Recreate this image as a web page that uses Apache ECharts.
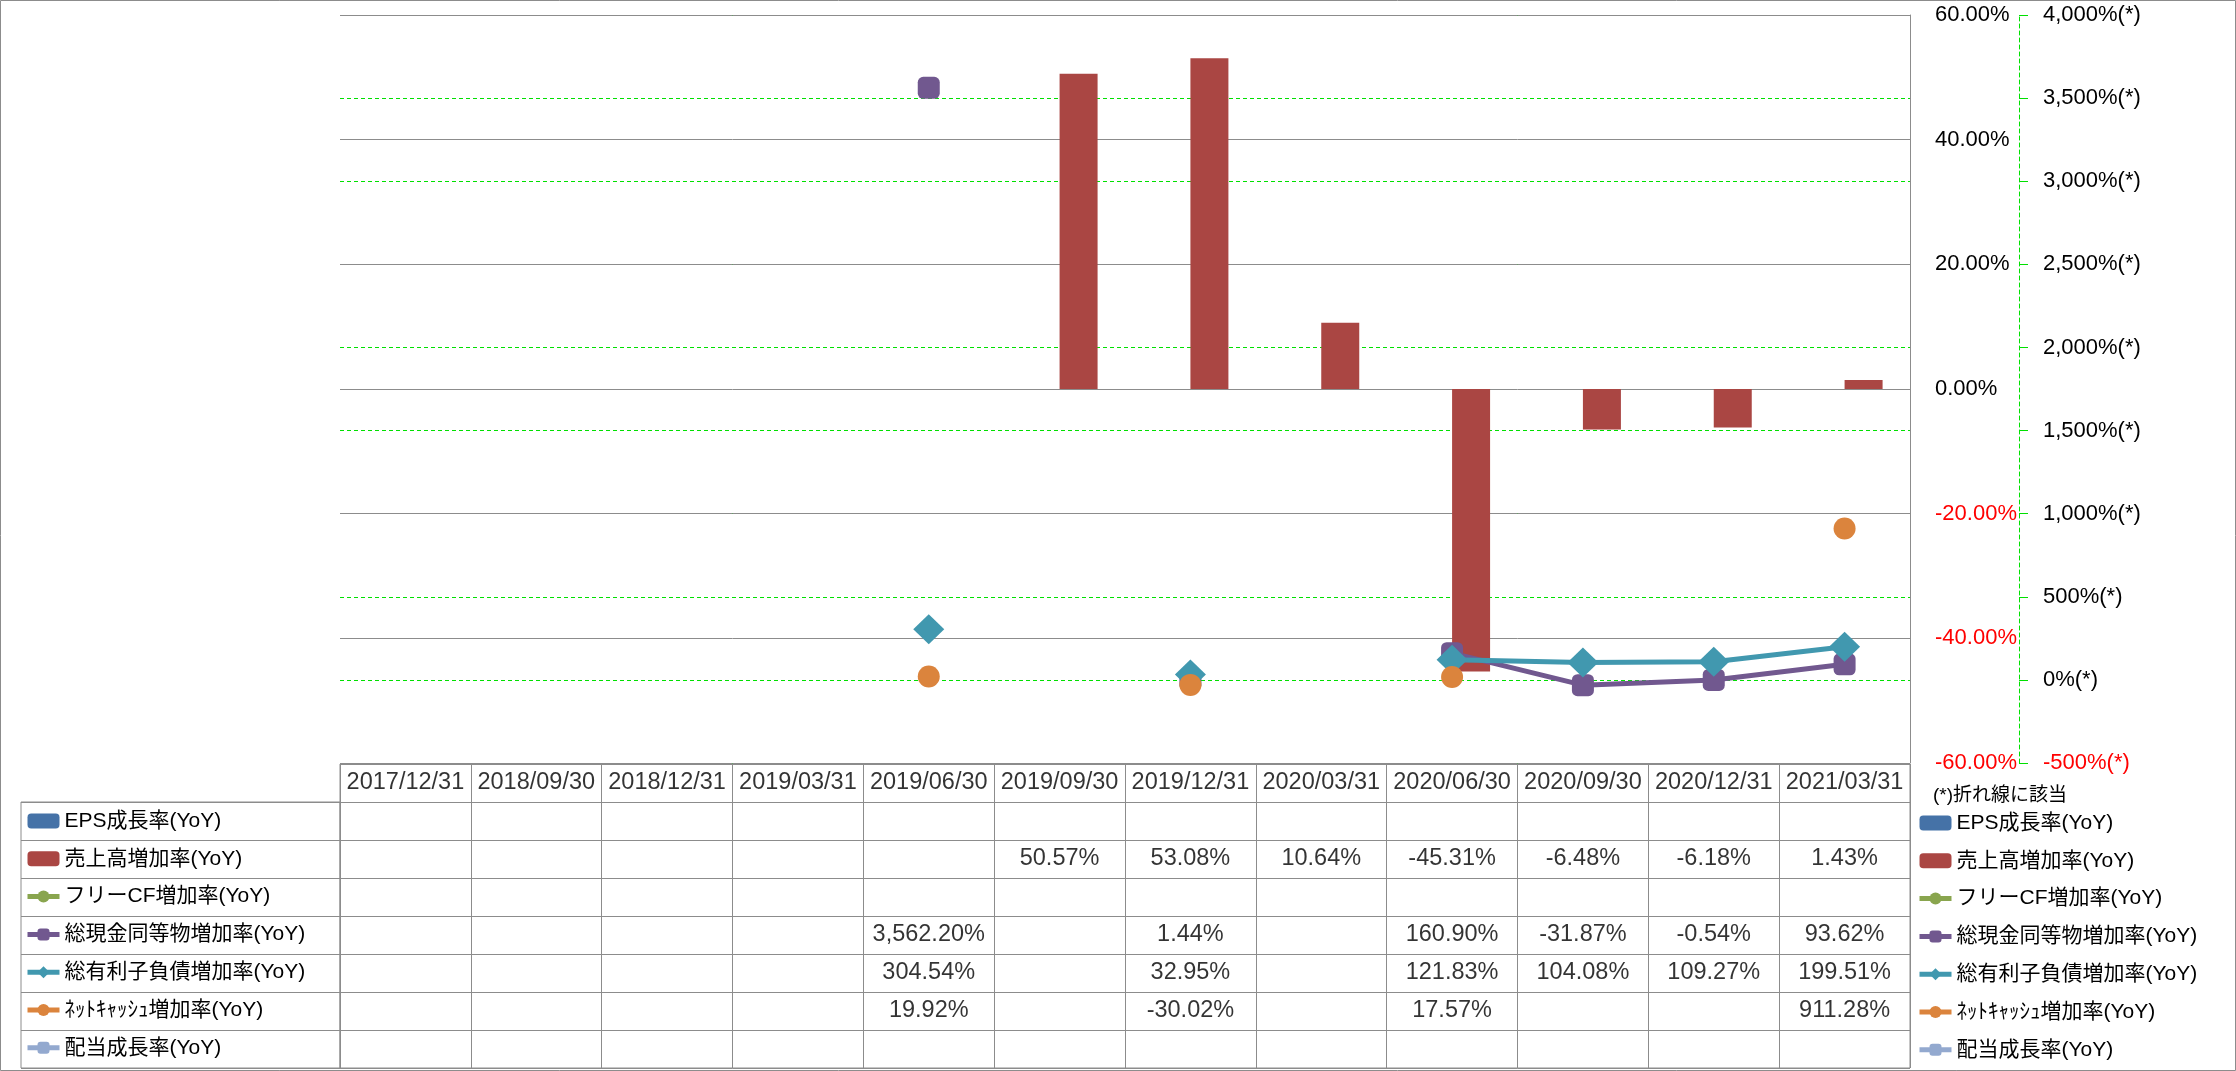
<!DOCTYPE html>
<html>
<head>
<meta charset="utf-8">
<script src="https://cdn.jsdelivr.net/npm/echarts@6/dist/echarts.min.js"></script>
<style>
html,body{margin:0;padding:0;background:#fff;}
#chart{width:2236px;height:1071px;}
</style>
</head>
<body>
<div id="chart"></div>
<script>
// ---- data ----
const categories = ['2017/12/31','2018/09/30','2018/12/31','2019/03/31','2019/06/30','2019/09/30','2019/12/31','2020/03/31','2020/06/30','2020/09/30','2020/12/31','2021/03/31'];
const seriesNames = ['EPS成長率(YoY)','売上高増加率(YoY)','フリーCF増加率(YoY)','総現金同等物増加率(YoY)','総有利子負債増加率(YoY)','ﾈｯﾄｷｬｯｼｭ増加率(YoY)','配当成長率(YoY)'];
const epsGrowth      = [null,null,null,null,null,null,null,null,null,null,null,null];
const salesGrowth    = [null,null,null,null,null,50.57,53.08,10.64,-45.31,-6.48,-6.18,1.43];
const fcfGrowth      = [null,null,null,null,null,null,null,null,null,null,null,null];
const cashGrowth     = [null,null,null,null,3562.20,null,1.44,null,160.90,-31.87,-0.54,93.62];
const debtGrowth     = [null,null,null,null,304.54,null,32.95,null,121.83,104.08,109.27,199.51];
const netCashGrowth  = [null,null,null,null,19.92,null,-30.02,null,17.57,null,null,911.28];
const dividendGrowth = [null,null,null,null,null,null,null,null,null,null,null,null];
const primaryTicks   = {min:-60, max:60, interval:20};
const secondaryTicks = {min:-500, max:4000, interval:500};
const footnote = '(*)折れ線に該当';

// ---- style ----
const colors = ['#4572A7','#AA4643','#89A54E','#71588F','#4198AF','#DB843D','#93A9CF'];
const FONT = "'Liberation Sans','Noto Sans CJK JP',sans-serif";
const GRID_GRAY = '#8c8c8c';
const GREEN = '#00e000';

const fmtPct = v => v.toLocaleString('en-US',{minimumFractionDigits:2,maximumFractionDigits:2}) + '%';
const allRows = [epsGrowth, salesGrowth, fcfGrowth, cashGrowth, debtGrowth, netCashGrowth, dividendGrowth];

// table cells: header row (row 0) + 7 series rows
const tableCells = [];
categories.forEach((c, i) => tableCells.push([i, 0, c]));
allRows.forEach((arr, r) => arr.forEach((v, i) => { if (v !== null) tableCells.push([i, r + 1, fmtPct(v)]); }));

const chart = echarts.init(document.getElementById('chart'), null, {renderer:'canvas'});

const legendCommon = {
  orient:'vertical', padding:0, itemWidth:32, itemHeight:15, itemGap:15.8,
  selectedMode:false, data: seriesNames,
  lineStyle:{width:5},
  textStyle:{fontFamily:FONT, fontSize:21, color:'#000', lineHeight:22}
};

const lineSeries = (name, data, color, symbol, size) => ({
  name, type:'line', xAxisIndex:0, yAxisIndex:1, data,
  symbol, symbolSize:size, connectNulls:false, z:3,
  lineStyle:{color, width:5}, itemStyle:{color}, emphasis:{disabled:true}
});

chart.setOption({
  animation:false,
  backgroundColor:'#fff',
  color: colors,
  textStyle:{fontFamily:FONT},
  title:{text:footnote, left:1928, top:781,
    textStyle:{fontFamily:FONT, fontSize:19, fontWeight:'normal', color:'#000'}},
  legend:[
    Object.assign({left:25, top:810}, legendCommon),
    Object.assign({left:1917, top:812}, legendCommon)
  ],
  grid:[
    {left:340, right:326, top:15, bottom:308, containLabel:false},          // plot
    {left:340, right:326, top:764, height:304, show:true, borderColor:GRID_GRAY, borderWidth:1}, // table
    {left:21, width:319, top:802, height:266, show:true, borderColor:GRID_GRAY, borderWidth:1}   // legend column
  ],
  xAxis:[
    {type:'category', gridIndex:0, data:categories, boundaryGap:true,
      axisLine:{show:false}, axisTick:{show:false}, axisLabel:{show:false}, splitLine:{show:false}},
    {type:'category', gridIndex:1, data:categories, boundaryGap:true,
      axisLine:{show:false}, axisTick:{show:false}, axisLabel:{show:false},
      splitLine:{show:true, lineStyle:{color:GRID_GRAY, width:1}}},
    {type:'value', gridIndex:2, min:0, max:1, show:false}
  ],
  yAxis:[
    {type:'value', gridIndex:0, position:'right', z:2, min:primaryTicks.min, max:primaryTicks.max, interval:primaryTicks.interval,
      axisLine:{show:true, lineStyle:{color:GRID_GRAY, width:1}}, axisTick:{show:false},
      axisLabel:{margin:25, fontFamily:FONT, fontSize:22,
        formatter: v => (v < 0 ? '{r|' : '{b|') + v.toFixed(2) + '%}',
        rich:{r:{color:'#ff0000', fontFamily:FONT, fontSize:22}, b:{color:'#000', fontFamily:FONT, fontSize:22}}},
      splitLine:{show:true, lineStyle:{color:GRID_GRAY, width:1}}},
    {type:'value', gridIndex:0, position:'right', z:1, offset:109, min:secondaryTicks.min, max:secondaryTicks.max, interval:secondaryTicks.interval,
      axisLine:{show:true, lineStyle:{color:GREEN, width:1, type:[4,3]}},
      axisTick:{show:true, length:9, lineStyle:{color:GREEN, width:1}},
      axisLabel:{margin:24, fontFamily:FONT, fontSize:22,
        formatter: v => (v < 0 ? '{r|' : '{b|') + v.toLocaleString('en-US') + '%(*)}',
        rich:{r:{color:'#ff0000', fontFamily:FONT, fontSize:22}, b:{color:'#000', fontFamily:FONT, fontSize:22}}},
      splitLine:{show:true, lineStyle:{color:GREEN, width:1, type:[4,3]}}},
    {type:'category', gridIndex:1, inverse:true, data:['header'].concat(seriesNames), boundaryGap:true,
      axisLine:{show:false}, axisTick:{show:false}, axisLabel:{show:false},
      splitLine:{show:true, lineStyle:{color:GRID_GRAY, width:1}}},
    {type:'category', gridIndex:2, inverse:true, data:seriesNames, boundaryGap:true,
      axisLine:{show:false}, axisTick:{show:false}, axisLabel:{show:false},
      splitLine:{show:true, lineStyle:{color:GRID_GRAY, width:1}}}
  ],
  series:[
    {name:seriesNames[0], type:'bar', xAxisIndex:0, yAxisIndex:0, data:epsGrowth, barWidth:38, barGap:'0%', z:4,
      itemStyle:{color:colors[0]}},
    {name:seriesNames[1], type:'bar', xAxisIndex:0, yAxisIndex:0, data:salesGrowth, barWidth:38, barGap:'0%', z:4,
      itemStyle:{color:colors[1]}},
    Object.assign(lineSeries(seriesNames[2], fcfGrowth, colors[2], 'circle', 22), {z:5}),
    Object.assign(lineSeries(seriesNames[3], cashGrowth, colors[3], 'roundRect', 22), {z:5}),
    Object.assign(lineSeries(seriesNames[4], debtGrowth, colors[4], 'diamond', [31,30]), {z:5}),
    Object.assign(lineSeries(seriesNames[5], netCashGrowth, colors[5], 'circle', 22), {z:5}),
    Object.assign(lineSeries(seriesNames[6], dividendGrowth, colors[6], 'roundRect', 22), {z:5}),
    {name:'table', type:'scatter', xAxisIndex:1, yAxisIndex:2, data:tableCells,
      symbolSize:0, silent:true, z:5,
      label:{show:true, position:'inside', formatter:p => p.value[2],
        fontFamily:FONT, fontSize:23.5, color:'#000'}}
  ],
  graphic:[
    {type:'rect', shape:{x:0.5, y:0.5, width:2235, height:1070}, style:{fill:null, stroke:GRID_GRAY, lineWidth:1}, silent:true, z:-1}
  ]
});
</script>
</body>
</html>
